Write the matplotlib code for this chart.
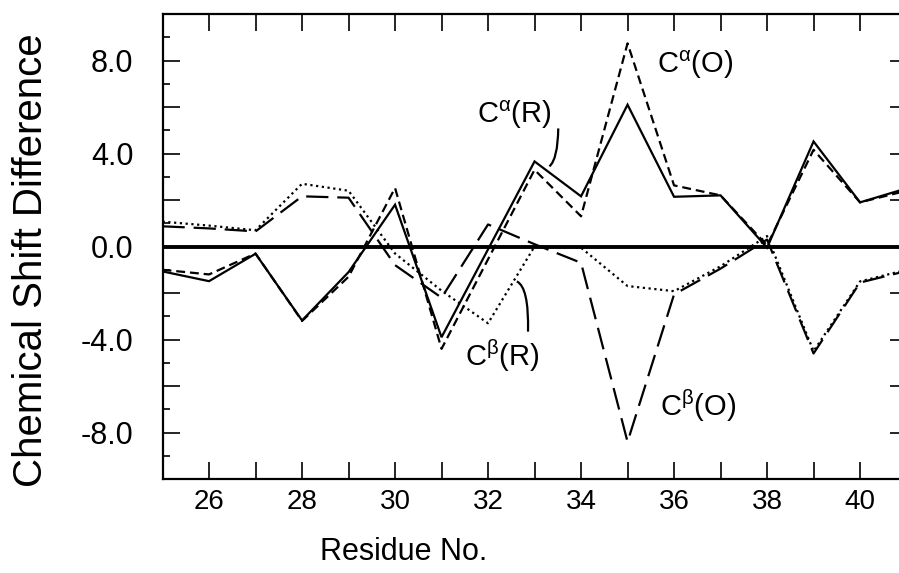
import numpy as np
import matplotlib
matplotlib.use('Agg')
import matplotlib.pyplot as plt
from matplotlib.path import Path
from matplotlib.patches import PathPatch
from matplotlib.ticker import FixedLocator, FuncFormatter

plt.rcParams['font.family'] = ['Liberation Sans', 'DejaVu Sans']
plt.rcParams['mathtext.fontset'] = 'custom'
plt.rcParams['mathtext.rm'] = 'Liberation Sans'
plt.rcParams['mathtext.it'] = 'Liberation Sans'
plt.rcParams['mathtext.default'] = 'regular'

# ---------------------------------------------------------------
# data (residues 25-41)
# ---------------------------------------------------------------
residues = list(range(25, 42))

ca_R = [-1.07, -1.49, -0.31, -3.18, -1.10, 1.80, -3.90, -0.12, 3.66,
        2.16, 6.10, 2.14, 2.20, -0.05, 4.52, 1.90, 2.50]
ca_O = [-1.00, -1.20, -0.30, -3.20, -1.30, 2.52, -4.40, -0.55, 3.30,
        1.30, 8.74, 2.63, 2.20, 0.05, 4.16, 1.90, 2.40]
cb_R = [1.07, 0.90, 0.70, 2.70, 2.40, -0.30, -1.90, -3.30, 0.00,
        -0.05, -1.70, -1.92, -0.85, 0.45, -4.50, -1.50, -1.00]
cb_O = [0.87, 0.78, 0.65, 2.16, 2.10, -0.80, -2.20, 0.95, 0.10,
        -0.70, -8.40, -2.06, -0.95, 0.30, -4.60, -1.55, -1.05]

y_major = list(range(-10, 11, 2))
y_minor = list(range(-10, 11, 1))

# ---------------------------------------------------------------
# figure
# ---------------------------------------------------------------
fig = plt.figure(figsize=(8.99, 5.73), dpi=100)
ax = fig.add_axes([0.1808, 0.164, 0.8276, 0.8115])

lw = 1.6
ax.plot(residues, ca_R, color='black', lw=lw, solid_joinstyle='miter')
ax.plot(residues, ca_O, color='black', lw=lw, dashes=(4, 2.2))
ax.plot(residues, cb_R, color='black', lw=lw, dashes=(1, 1.6))
ax.plot(residues, cb_O, color='black', lw=lw, dashes=(10, 4))
ax.axhline(0, color='black', lw=2.8, zorder=3)

ax.set_xlim(25, 41)
ax.set_ylim(-10, 10)

# ticks
ax.xaxis.set_major_locator(FixedLocator(residues))
ax.xaxis.set_major_formatter(FuncFormatter(lambda v, p: f'{int(v)}' if int(v) % 2 == 0 and v < 41 else ''))
ax.yaxis.set_major_locator(FixedLocator(y_major))
ax.yaxis.set_minor_locator(FixedLocator(y_minor))
ax.yaxis.set_major_formatter(FuncFormatter(lambda v, p: f'{v:.1f}' if int(v) % 4 == 0 and abs(v) < 10 else ''))

ax.tick_params(axis='x', which='major', direction='in', top=True, length=12,
               width=1.2, labelsize=20, pad=7)
ax.tick_params(axis='y', which='major', direction='in', right=True, length=12,
               width=1.2, labelsize=22, pad=21)
ax.tick_params(axis='y', which='minor', direction='in', right=True, length=5,
               width=1.2)

for s in ax.spines.values():
    s.set_linewidth(1.6)

# curve labels
fs = 21
ax.text(35.63, 7.48, r'C$^{\alpha}$(O)', fontsize=fs, ha='left', va='baseline')
ax.text(31.76, 5.33, r'C$^{\alpha}$(R)', fontsize=fs, ha='left', va='baseline')
ax.text(31.50, -5.15, r'C$^{\beta}$(R)', fontsize=fs, ha='left', va='baseline')
ax.text(35.70, -7.30, r'C$^{\beta}$(O)', fontsize=fs, ha='left', va='baseline')

# little leader curves
for verts in ([(33.51, 5.08), (33.50, 3.75), (33.32, 3.45)],
              [(32.62, -1.50), (32.88, -1.75), (32.86, -3.66)]):
    p = Path(verts, [Path.MOVETO, Path.CURVE3, Path.CURVE3])
    ax.add_patch(PathPatch(p, fill=False, lw=1.6, color='black'))

# axis titles
fig.text(31 / 899, 1 - 260.5 / 573, 'Chemical Shift Difference', rotation=90,
         ha='center', va='center', fontsize=29)
fig.text(404 / 899, 1 - 560 / 573, 'Residue No.', ha='center',
         va='baseline', fontsize=22)

fig.savefig('out.png', dpi=100)
